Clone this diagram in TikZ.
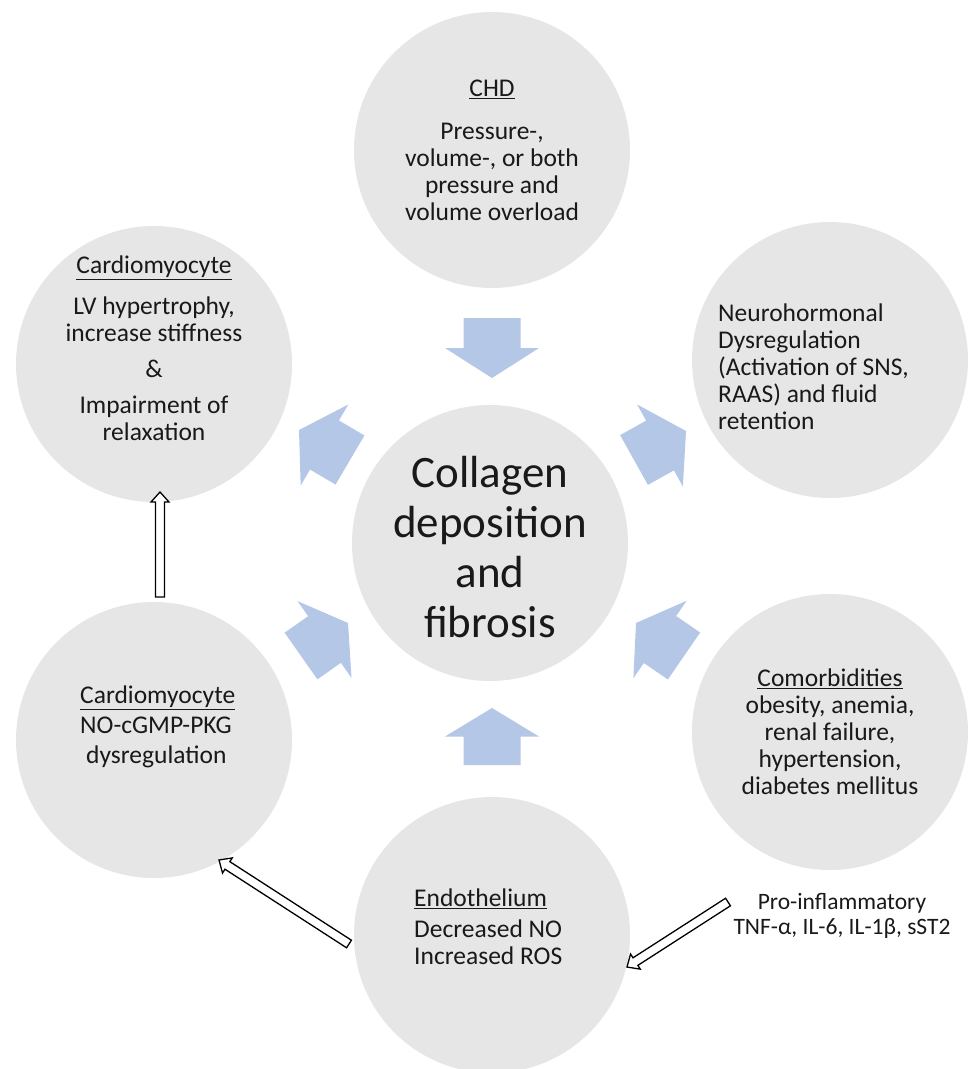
\documentclass[tikz,border=0pt]{standalone}
\usepackage{fontspec}
\setmainfont{Carlito}
\usetikzlibrary{calc}
\definecolor{circfill}{RGB}{230,230,230}
\definecolor{blockblue}{RGB}{180,199,231}
\definecolor{txtcol}{RGB}{25,25,25}
% block arrow from tail #1 to tip #2
\newcommand\blockarr[2]{%
  \coordinate (bneck) at ($(#1)!0.5!(#2)$);
  \fill[blockstyle] ($(#1)!28.5pt!90:(#2)$) -- ($(bneck)!28.5pt!90:(#2)$) -- ($(bneck)!47pt!90:(#2)$) -- (#2)
     -- ($(bneck)!47pt!-90:(#2)$) -- ($(bneck)!28.5pt!-90:(#2)$) -- ($(#1)!28.5pt!-90:(#2)$) -- cycle;}
% hollow arrow from tail #1 to tip #2
\newcommand\hollowarr[2]{%
  \coordinate (hneck) at ($(#2)!10pt!(#1)$);
  \draw[hollowstyle] ($(#1)!4.5pt!90:(#2)$) -- ($(hneck)!4.5pt!90:(#2)$) -- ($(hneck)!9pt!90:(#2)$) -- (#2)
     -- ($(hneck)!9pt!-90:(#2)$) -- ($(hneck)!4.5pt!-90:(#2)$) -- ($(#1)!4.5pt!-90:(#2)$) -- cycle;}
\begin{document}
\begin{tikzpicture}[x=1pt,y=1pt,
  circ/.style={circle, fill=circfill, minimum size=276pt, inner sep=0pt},
  txt/.style={text=txtcol, font=\fontsize{25.5}{27}\selectfont, inner sep=0pt},
  bigtxt/.style={text=txtcol, font=\fontsize{45}{50}\selectfont, inner sep=0pt, align=center},
  smalltxt/.style={text=txtcol, font=\fontsize{23.5}{25}\selectfont, inner sep=0pt, align=center},
  blockstyle/.style={fill=blockblue},
  hollowstyle/.style={draw=black, fill=white, line width=1.3pt, line join=miter}]
\useasboundingbox (0,0) rectangle (970,-1069);
\clip (0,0) rectangle (970,-1069);
% circles
\node[circ] (chd) at (492,-150) {};
\node[circ] (cardA) at (154,-364) {};
\node[circ] (neuro) at (830,-360) {};
\node[circ] (core) at (490,-543) {};
\node[circ] (cardB) at (154,-740) {};
\node[circ] (comor) at (830,-732) {};
\node[circ] (endo) at (492,-935) {};
% texts
\node[txt, align=center] (chdt) at (492,-150) {\underline{CHD}\\[16pt]Pressure-,\\volume-, or both\\pressure and\\volume overload};
\node[txt, align=center] (cardAt) at (154,-348) {\underline{Cardiomyocyte}\\[14pt]LV hypertrophy,\\increase stiffness\\[9pt]\&\\[9pt]Impairment of\\relaxation};
\node[txt, align=left, anchor=west] (neurot) at (718,-367) {Neurohormonal\\Dysregulation\\(Activation of SNS,\\RAAS) and fluid\\retention};
\node[bigtxt] (coret) at (490,-547) {Collagen\\deposition\\and\\fibrosis};
\node[txt, align=left, anchor=west] (cardBt) at (80,-727) {\underline{Cardiomyocyte}\\[3pt]NO-cGMP-PKG\\[3pt]\hspace{6pt}dysregulation};
\node[txt, align=center] (comort) at (830,-732) {\underline{Comorbidities}\\obesity, anemia,\\renal failure,\\hypertension,\\diabetes mellitus};
\node[txt, align=left, anchor=west] (endot) at (414,-927) {\underline{Endothelium}\\[4pt]Decreased NO\\Increased ROS};
\node[smalltxt] (inflt) at (842,-916) {Pro-inflammatory\\TNF-α, IL-6, IL-1β, sST2};
% block arrow end points
\coordinate (aTopT) at (492,-318);  \coordinate (aTopH) at (492,-378);
\coordinate (aBotT) at (492,-765);  \coordinate (aBotH) at (492,-708);
\coordinate (aTLT) at (350,-460);   \coordinate (aTLH) at (299,-430);
\coordinate (aTRT) at (634,-460);   \coordinate (aTRH) at (686,-431);
\coordinate (aBLT) at (301,-656);   \coordinate (aBLH) at (348,-623);
\coordinate (aBRT) at (684,-656);   \coordinate (aBRH) at (636,-623);
\blockarr{aTopT}{aTopH}
\blockarr{aBotT}{aBotH}
\blockarr{aTLT}{aTLH}
\blockarr{aTRT}{aTRH}
\blockarr{aBLT}{aBLH}
\blockarr{aBRT}{aBRH}
% hollow arrow end points
\coordinate (hVT) at (160,-597);  \coordinate (hVH) at (160,-492);
\coordinate (hET) at (349,-944);  \coordinate (hEH) at (219,-860);
\coordinate (hCT) at (728,-902);  \coordinate (hCH) at (627,-967);
\hollowarr{hVT}{hVH}
\hollowarr{hET}{hEH}
\hollowarr{hCT}{hCH}
\end{tikzpicture}
\end{document}
